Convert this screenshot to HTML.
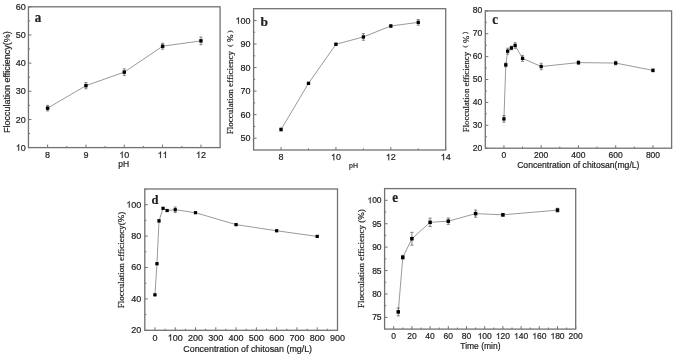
<!DOCTYPE html>
<html><head><meta charset="utf-8"><style>
html,body{margin:0;padding:0;background:#fff;}
svg{display:block;will-change:transform;font-family:"Liberation Sans", sans-serif;fill:#222;}
svg text{fill:#222;stroke:#222;stroke-width:0.2px;}
.one{fill:#222;stroke:#222;stroke-width:0.2px;vector-effect:non-scaling-stroke;}
</style></head><body>
<svg width="676" height="356" viewBox="0 0 676 356">
<rect width="676" height="356" fill="#fff"/>
<rect x="28.45" y="6.8" width="191.65" height="140.8" fill="none" stroke="#727272" stroke-width="1.3"/>
<path d="M47.62 147.6v-3M85.94 147.6v-3M124.28 147.6v-3M162.6 147.6v-3M200.94 147.6v-3M66.78 147.6v-1.6M105.11 147.6v-1.6M143.44 147.6v-1.6M181.77 147.6v-1.6M28.45 147.6h3M28.45 119.44h3M28.45 91.28h3M28.45 63.12h3M28.45 34.96h3M28.45 6.8h3M28.45 133.52h1.6M28.45 105.36h1.6M28.45 77.2h1.6M28.45 49.04h1.6M28.45 20.88h1.6" stroke="#727272" stroke-width="1" fill="none"/>
<text x="47.62" y="158" font-size="9" text-anchor="middle">8</text>
<text x="85.94" y="158" font-size="9" text-anchor="middle">9</text>
<text x="124.28" y="158" font-size="9" text-anchor="middle">&#8199;0</text><path class="one" transform="translate(119.27,158) scale(0.00439,-0.00439)" d="M763 0L583 0L583 1147Q518 1085 415 1024.5Q312 964 223 931L223 1105Q375 1176 486.5 1274Q598 1372 651 1466L763 1466Z"/>
<text x="162.6" y="158" font-size="9" text-anchor="middle">&#8199;&#8199;</text><path class="one" transform="translate(157.6,158) scale(0.00439,-0.00439)" d="M763 0L583 0L583 1147Q518 1085 415 1024.5Q312 964 223 931L223 1105Q375 1176 486.5 1274Q598 1372 651 1466L763 1466Z"/><path class="one" transform="translate(162.6,158) scale(0.00439,-0.00439)" d="M763 0L583 0L583 1147Q518 1085 415 1024.5Q312 964 223 931L223 1105Q375 1176 486.5 1274Q598 1372 651 1466L763 1466Z"/>
<text x="200.94" y="158" font-size="9" text-anchor="middle">&#8199;2</text><path class="one" transform="translate(195.93,158) scale(0.00439,-0.00439)" d="M763 0L583 0L583 1147Q518 1085 415 1024.5Q312 964 223 931L223 1105Q375 1176 486.5 1274Q598 1372 651 1466L763 1466Z"/>
<text x="25.8" y="150.8" font-size="9" text-anchor="end">&#8199;0</text><path class="one" transform="translate(15.79,150.8) scale(0.00439,-0.00439)" d="M763 0L583 0L583 1147Q518 1085 415 1024.5Q312 964 223 931L223 1105Q375 1176 486.5 1274Q598 1372 651 1466L763 1466Z"/>
<text x="25.8" y="122.64" font-size="9" text-anchor="end">20</text>
<text x="25.8" y="94.48" font-size="9" text-anchor="end">30</text>
<text x="25.8" y="66.32" font-size="9" text-anchor="end">40</text>
<text x="25.8" y="38.16" font-size="9" text-anchor="end">50</text>
<text x="25.8" y="10" font-size="9" text-anchor="end">60</text>
<text x="123.6" y="167" font-size="8.5" text-anchor="middle">pH</text>
<text transform="translate(10,133.1) rotate(-90)" font-size="9" style='font-family:"Liberation Sans", sans-serif'>Flocculation efficiency(%)</text>
<text transform="translate(34.71,21.6) scale(1,1.15)" font-size="13" font-weight="bold" style='font-family:"Liberation Serif", serif' fill="#000">a</text>
<polyline points="47.62,108.18 85.94,85.65 124.28,72.13 162.6,46.22 200.94,40.87" fill="none" stroke="#9a9a9a" stroke-width="1"/>
<path d="M47.62 105.36V110.99M46.12 105.36h3.0M46.12 110.99h3.0M85.94 82.55V88.75M84.44 82.55h3.0M84.44 88.75h3.0M124.28 68.89V75.37M122.78 68.89h3.0M122.78 75.37h3.0M162.6 43.27V49.18M161.1 43.27h3.0M161.1 49.18h3.0M200.94 37.07V44.68M199.44 37.07h3.0M199.44 44.68h3.0" stroke="#666" stroke-width="0.8" fill="none"/>
<rect x="45.91" y="106.48" width="3.4" height="3.4" fill="#000"/>
<rect x="84.24" y="83.95" width="3.4" height="3.4" fill="#000"/>
<rect x="122.58" y="70.43" width="3.4" height="3.4" fill="#000"/>
<rect x="160.91" y="44.52" width="3.4" height="3.4" fill="#000"/>
<rect x="199.24" y="39.17" width="3.4" height="3.4" fill="#000"/>
<rect x="253.6" y="8.7" width="192.1" height="141.3" fill="none" stroke="#727272" stroke-width="1.3"/>
<path d="M281.04 150v-3M335.93 150v-3M390.81 150v-3M445.7 150v-3M308.49 150v-1.6M363.37 150v-1.6M418.26 150v-1.6M253.6 138.22h3M253.6 114.67h3M253.6 91.12h3M253.6 67.57h3M253.6 44.02h3M253.6 20.47h3M253.6 126.45h1.6M253.6 102.9h1.6M253.6 79.35h1.6M253.6 55.8h1.6M253.6 32.25h1.6" stroke="#727272" stroke-width="1" fill="none"/>
<text x="281.04" y="160.2" font-size="9" text-anchor="middle">8</text>
<text x="335.93" y="160.2" font-size="9" text-anchor="middle">&#8199;0</text><path class="one" transform="translate(330.92,160.2) scale(0.00439,-0.00439)" d="M763 0L583 0L583 1147Q518 1085 415 1024.5Q312 964 223 931L223 1105Q375 1176 486.5 1274Q598 1372 651 1466L763 1466Z"/>
<text x="390.81" y="160.2" font-size="9" text-anchor="middle">&#8199;2</text><path class="one" transform="translate(385.81,160.2) scale(0.00439,-0.00439)" d="M763 0L583 0L583 1147Q518 1085 415 1024.5Q312 964 223 931L223 1105Q375 1176 486.5 1274Q598 1372 651 1466L763 1466Z"/>
<text x="445.7" y="160.2" font-size="9" text-anchor="middle">&#8199;4</text><path class="one" transform="translate(440.69,160.2) scale(0.00439,-0.00439)" d="M763 0L583 0L583 1147Q518 1085 415 1024.5Q312 964 223 931L223 1105Q375 1176 486.5 1274Q598 1372 651 1466L763 1466Z"/>
<text x="250.5" y="141.42" font-size="9" text-anchor="end">50</text>
<text x="250.5" y="117.88" font-size="9" text-anchor="end">60</text>
<text x="250.5" y="94.33" font-size="9" text-anchor="end">70</text>
<text x="250.5" y="70.77" font-size="9" text-anchor="end">80</text>
<text x="250.5" y="47.22" font-size="9" text-anchor="end">90</text>
<text x="250.5" y="23.67" font-size="9" text-anchor="end">&#8199;00</text><path class="one" transform="translate(235.48,23.67) scale(0.00439,-0.00439)" d="M763 0L583 0L583 1147Q518 1085 415 1024.5Q312 964 223 931L223 1105Q375 1176 486.5 1274Q598 1372 651 1466L763 1466Z"/>
<text x="353.6" y="168.3" font-size="7" text-anchor="middle">pH</text>
<text transform="translate(233.3,134.17) rotate(-90)" font-size="9" style='font-family:"Liberation Serif", serif'>Flocculation efficiency<tspan dx="4.25" dy="-1.63" font-size="6.75">(</tspan><tspan dx="2.7" dy="1.63">%</tspan><tspan dx="1.6" dy="-1.63" font-size="6.75">)</tspan></text>
<text transform="translate(260.57,25.7) scale(1,1)" font-size="13.5" font-weight="bold" style='font-family:"Liberation Serif", serif' fill="#000">b</text>
<polyline points="281.04,129.51 308.49,83.35 335.93,44.26 363.37,36.96 390.81,26.01 418.26,22.36" fill="none" stroke="#9a9a9a" stroke-width="1"/>
<path d="M281.04 128.1V130.92M279.54 128.1h3.0M279.54 130.92h3.0M308.49 82.41V84.3M306.99 82.41h3.0M306.99 84.3h3.0M335.93 43.32V45.2M334.43 43.32h3.0M334.43 45.2h3.0M363.37 33.66V40.26M361.87 33.66h3.0M361.87 40.26h3.0M390.81 24.83V27.19M389.31 24.83h3.0M389.31 27.19h3.0M418.26 19.53V25.18M416.76 19.53h3.0M416.76 25.18h3.0" stroke="#666" stroke-width="0.8" fill="none"/>
<rect x="279.39" y="127.86" width="3.3" height="3.3" fill="#000"/>
<rect x="306.84" y="81.7" width="3.3" height="3.3" fill="#000"/>
<rect x="334.28" y="42.61" width="3.3" height="3.3" fill="#000"/>
<rect x="361.72" y="35.31" width="3.3" height="3.3" fill="#000"/>
<rect x="389.16" y="24.36" width="3.3" height="3.3" fill="#000"/>
<rect x="416.61" y="20.71" width="3.3" height="3.3" fill="#000"/>
<rect x="485.3" y="10.9" width="186.3" height="137.3" fill="none" stroke="#727272" stroke-width="1.3"/>
<path d="M503.93 148.2v-3M541.19 148.2v-3M578.45 148.2v-3M615.71 148.2v-3M652.97 148.2v-3M522.56 148.2v-1.6M559.82 148.2v-1.6M597.08 148.2v-1.6M634.34 148.2v-1.6M671.6 148.2v-1.6M485.3 148.2h3M485.3 125.32h3M485.3 102.43h3M485.3 79.55h3M485.3 56.67h3M485.3 33.78h3M485.3 10.9h3M485.3 136.76h1.6M485.3 113.88h1.6M485.3 90.99h1.6M485.3 68.11h1.6M485.3 45.22h1.6M485.3 22.34h1.6" stroke="#727272" stroke-width="1" fill="none"/>
<text x="503.93" y="158.2" font-size="8.5" text-anchor="middle">0</text>
<text x="541.19" y="158.2" font-size="8.5" text-anchor="middle">200</text>
<text x="578.45" y="158.2" font-size="8.5" text-anchor="middle">400</text>
<text x="615.71" y="158.2" font-size="8.5" text-anchor="middle">600</text>
<text x="652.97" y="158.2" font-size="8.5" text-anchor="middle">800</text>
<text x="482.2" y="150.5" font-size="8.5" text-anchor="end">20</text>
<text x="482.2" y="127.62" font-size="8.5" text-anchor="end">30</text>
<text x="482.2" y="104.73" font-size="8.5" text-anchor="end">40</text>
<text x="482.2" y="81.85" font-size="8.5" text-anchor="end">50</text>
<text x="482.2" y="58.97" font-size="8.5" text-anchor="end">60</text>
<text x="482.2" y="36.08" font-size="8.5" text-anchor="end">70</text>
<text x="482.2" y="13.2" font-size="8.5" text-anchor="end">80</text>
<text x="578.3" y="167.7" font-size="8.6" text-anchor="middle">Concentration of chitosan(mg/L)</text>
<text transform="translate(468.7,132.16) rotate(-90)" font-size="8.7" style='font-family:"Liberation Serif", serif'>Flocculation efficiency<tspan dx="4.6" dy="-1.39" font-size="6.5">(</tspan><tspan dx="2.14" dy="1.39">%</tspan><tspan dx="1.92" dy="-1.39" font-size="6.5">)</tspan></text>
<text transform="translate(492.31,23.7) scale(1,1.12)" font-size="13" font-weight="bold" style='font-family:"Liberation Serif", serif' fill="#000">c</text>
<polyline points="503.93,118.91 505.79,64.9 507.66,51.17 511.38,47.97 515.11,45.45 522.56,58.38 541.19,66.51 578.45,62.62 615.71,63.07 652.97,70.4" fill="none" stroke="#9a9a9a" stroke-width="1"/>
<path d="M503.93 115.59V122.23M502.53 115.59h2.8M502.53 122.23h2.8M505.79 63.07V66.74M504.39 63.07h2.8M504.39 66.74h2.8M507.66 48.2V54.15M506.26 48.2h2.8M506.26 54.15h2.8M511.38 46.14V49.8M509.98 46.14h2.8M509.98 49.8h2.8M515.11 42.59V48.31M513.71 42.59h2.8M513.71 48.31h2.8M522.56 55.41V61.36M521.16 55.41h2.8M521.16 61.36h2.8M541.19 63.3V69.71M539.79 63.3h2.8M539.79 69.71h2.8M578.45 60.79V64.45M577.05 60.79h2.8M577.05 64.45h2.8M615.71 61.24V64.9M614.31 61.24h2.8M614.31 64.9h2.8M652.97 69.02V71.77M651.57 69.02h2.8M651.57 71.77h2.8" stroke="#666" stroke-width="0.8" fill="none"/>
<rect x="502.28" y="117.26" width="3.3" height="3.3" fill="#000"/>
<rect x="504.14" y="63.25" width="3.3" height="3.3" fill="#000"/>
<rect x="506.01" y="49.52" width="3.3" height="3.3" fill="#000"/>
<rect x="509.73" y="46.32" width="3.3" height="3.3" fill="#000"/>
<rect x="513.46" y="43.8" width="3.3" height="3.3" fill="#000"/>
<rect x="520.91" y="56.73" width="3.3" height="3.3" fill="#000"/>
<rect x="539.54" y="64.86" width="3.3" height="3.3" fill="#000"/>
<rect x="576.8" y="60.97" width="3.3" height="3.3" fill="#000"/>
<rect x="614.06" y="61.42" width="3.3" height="3.3" fill="#000"/>
<rect x="651.32" y="68.75" width="3.3" height="3.3" fill="#000"/>
<rect x="144.8" y="189" width="192.7" height="141.3" fill="none" stroke="#727272" stroke-width="1.3"/>
<path d="M154.94 330.3v-3M175.23 330.3v-3M195.51 330.3v-3M215.79 330.3v-3M236.08 330.3v-3M256.36 330.3v-3M276.65 330.3v-3M296.93 330.3v-3M317.22 330.3v-3M337.5 330.3v-3M165.08 330.3v-1.6M185.37 330.3v-1.6M205.65 330.3v-1.6M225.94 330.3v-1.6M246.22 330.3v-1.6M266.51 330.3v-1.6M286.79 330.3v-1.6M307.07 330.3v-1.6M327.36 330.3v-1.6M144.8 330.3h3M144.8 298.9h3M144.8 267.5h3M144.8 236.1h3M144.8 204.7h3M144.8 314.6h1.6M144.8 283.2h1.6M144.8 251.8h1.6M144.8 220.4h1.6M144.8 189h1.6" stroke="#727272" stroke-width="1" fill="none"/>
<text x="154.94" y="340.7" font-size="9" text-anchor="middle">0</text>
<text x="175.23" y="340.7" font-size="9" text-anchor="middle">&#8199;00</text><path class="one" transform="translate(167.72,340.7) scale(0.00439,-0.00439)" d="M763 0L583 0L583 1147Q518 1085 415 1024.5Q312 964 223 931L223 1105Q375 1176 486.5 1274Q598 1372 651 1466L763 1466Z"/>
<text x="195.51" y="340.7" font-size="9" text-anchor="middle">200</text>
<text x="215.79" y="340.7" font-size="9" text-anchor="middle">300</text>
<text x="236.08" y="340.7" font-size="9" text-anchor="middle">400</text>
<text x="256.36" y="340.7" font-size="9" text-anchor="middle">500</text>
<text x="276.65" y="340.7" font-size="9" text-anchor="middle">600</text>
<text x="296.93" y="340.7" font-size="9" text-anchor="middle">700</text>
<text x="317.22" y="340.7" font-size="9" text-anchor="middle">800</text>
<text x="337.5" y="340.7" font-size="9" text-anchor="middle">900</text>
<text x="141.3" y="333.2" font-size="9" text-anchor="end">20</text>
<text x="141.3" y="301.8" font-size="9" text-anchor="end">40</text>
<text x="141.3" y="270.4" font-size="9" text-anchor="end">60</text>
<text x="141.3" y="239" font-size="9" text-anchor="end">80</text>
<text x="141.3" y="207.6" font-size="9" text-anchor="end">&#8199;00</text><path class="one" transform="translate(126.28,207.6) scale(0.00439,-0.00439)" d="M763 0L583 0L583 1147Q518 1085 415 1024.5Q312 964 223 931L223 1105Q375 1176 486.5 1274Q598 1372 651 1466L763 1466Z"/>
<text x="247.7" y="351.6" font-size="8.9" text-anchor="middle">Concentration of chitosan (mg/L)</text>
<text transform="translate(124.1,308.3) rotate(-90)" font-size="9" style='font-family:"Liberation Serif", serif'>Flocculation efficiency(%)</text>
<text transform="translate(151.5,203.8) scale(1,1)" font-size="12.5" font-weight="bold" style='font-family:"Liberation Serif", serif' fill="#000">d</text>
<polyline points="154.94,294.82 156.97,263.73 159,220.87 163.06,208.31 167.11,210.51 175.23,209.72 195.51,212.71 236.08,224.64 276.65,230.76 317.22,236.41" fill="none" stroke="#9a9a9a" stroke-width="1"/>
<path d="M154.94 294.03V295.6M153.44 294.03h3.0M153.44 295.6h3.0M156.97 262.95V264.52M155.47 262.95h3.0M155.47 264.52h3.0M159 219.62V222.13M157.5 219.62h3.0M157.5 222.13h3.0M163.06 207.53V209.1M161.56 207.53h3.0M161.56 209.1h3.0M167.11 209.57V211.45M165.61 209.57h3.0M165.61 211.45h3.0M175.23 207.06V212.39M173.73 207.06h3.0M173.73 212.39h3.0M195.51 211.92V213.49M194.01 211.92h3.0M194.01 213.49h3.0M236.08 223.85V225.42M234.58 223.85h3.0M234.58 225.42h3.0M276.65 229.98V231.55M275.15 229.98h3.0M275.15 231.55h3.0M317.22 235.63V237.2M315.72 235.63h3.0M315.72 237.2h3.0" stroke="#666" stroke-width="0.8" fill="none"/>
<rect x="153.34" y="293.22" width="3.2" height="3.2" fill="#000"/>
<rect x="155.37" y="262.13" width="3.2" height="3.2" fill="#000"/>
<rect x="157.4" y="219.27" width="3.2" height="3.2" fill="#000"/>
<rect x="161.46" y="206.71" width="3.2" height="3.2" fill="#000"/>
<rect x="165.51" y="208.91" width="3.2" height="3.2" fill="#000"/>
<rect x="173.63" y="208.12" width="3.2" height="3.2" fill="#000"/>
<rect x="193.91" y="211.11" width="3.2" height="3.2" fill="#000"/>
<rect x="234.48" y="223.04" width="3.2" height="3.2" fill="#000"/>
<rect x="275.05" y="229.16" width="3.2" height="3.2" fill="#000"/>
<rect x="315.62" y="234.81" width="3.2" height="3.2" fill="#000"/>
<rect x="384.6" y="188.6" width="191.1" height="140.5" fill="none" stroke="#727272" stroke-width="1.3"/>
<path d="M393.7 329.1v-3M411.9 329.1v-3M430.1 329.1v-3M448.3 329.1v-3M466.5 329.1v-3M484.7 329.1v-3M502.9 329.1v-3M521.1 329.1v-3M539.3 329.1v-3M557.5 329.1v-3M575.7 329.1v-3M402.8 329.1v-1.6M421 329.1v-1.6M439.2 329.1v-1.6M457.4 329.1v-1.6M475.6 329.1v-1.6M493.8 329.1v-1.6M512 329.1v-1.6M530.2 329.1v-1.6M548.4 329.1v-1.6M566.6 329.1v-1.6M384.6 317.39h3M384.6 293.98h3M384.6 270.56h3M384.6 247.14h3M384.6 223.72h3M384.6 200.31h3M384.6 305.68h1.6M384.6 282.27h1.6M384.6 258.85h1.6M384.6 235.43h1.6M384.6 212.02h1.6" stroke="#727272" stroke-width="1" fill="none"/>
<text x="393.7" y="339" font-size="8.5" text-anchor="middle">0</text>
<text x="411.9" y="339" font-size="8.5" text-anchor="middle">20</text>
<text x="430.1" y="339" font-size="8.5" text-anchor="middle">40</text>
<text x="448.3" y="339" font-size="8.5" text-anchor="middle">60</text>
<text x="466.5" y="339" font-size="8.5" text-anchor="middle">80</text>
<text x="484.7" y="339" font-size="8.5" text-anchor="middle">&#8199;00</text><path class="one" transform="translate(477.61,339) scale(0.00415,-0.00415)" d="M763 0L583 0L583 1147Q518 1085 415 1024.5Q312 964 223 931L223 1105Q375 1176 486.5 1274Q598 1372 651 1466L763 1466Z"/>
<text x="502.9" y="339" font-size="8.5" text-anchor="middle">&#8199;20</text><path class="one" transform="translate(495.81,339) scale(0.00415,-0.00415)" d="M763 0L583 0L583 1147Q518 1085 415 1024.5Q312 964 223 931L223 1105Q375 1176 486.5 1274Q598 1372 651 1466L763 1466Z"/>
<text x="521.1" y="339" font-size="8.5" text-anchor="middle">&#8199;40</text><path class="one" transform="translate(514.01,339) scale(0.00415,-0.00415)" d="M763 0L583 0L583 1147Q518 1085 415 1024.5Q312 964 223 931L223 1105Q375 1176 486.5 1274Q598 1372 651 1466L763 1466Z"/>
<text x="539.3" y="339" font-size="8.5" text-anchor="middle">&#8199;60</text><path class="one" transform="translate(532.21,339) scale(0.00415,-0.00415)" d="M763 0L583 0L583 1147Q518 1085 415 1024.5Q312 964 223 931L223 1105Q375 1176 486.5 1274Q598 1372 651 1466L763 1466Z"/>
<text x="557.5" y="339" font-size="8.5" text-anchor="middle">&#8199;80</text><path class="one" transform="translate(550.41,339) scale(0.00415,-0.00415)" d="M763 0L583 0L583 1147Q518 1085 415 1024.5Q312 964 223 931L223 1105Q375 1176 486.5 1274Q598 1372 651 1466L763 1466Z"/>
<text x="575.7" y="339" font-size="8.5" text-anchor="middle">200</text>
<text x="381.6" y="320.39" font-size="8.5" text-anchor="end">75</text>
<text x="381.6" y="296.98" font-size="8.5" text-anchor="end">80</text>
<text x="381.6" y="273.56" font-size="8.5" text-anchor="end">85</text>
<text x="381.6" y="250.14" font-size="8.5" text-anchor="end">90</text>
<text x="381.6" y="226.72" font-size="8.5" text-anchor="end">95</text>
<text x="381.6" y="203.31" font-size="8.5" text-anchor="end">&#8199;00</text><path class="one" transform="translate(367.42,203.31) scale(0.00415,-0.00415)" d="M763 0L583 0L583 1147Q518 1085 415 1024.5Q312 964 223 931L223 1105Q375 1176 486.5 1274Q598 1372 651 1466L763 1466Z"/>
<text x="480.4" y="348.8" font-size="8.5" text-anchor="middle">Time (min)</text>
<text transform="translate(364.1,308) rotate(-90)" font-size="9" style='font-family:"Liberation Serif", serif'>Flocculation efficiency (%)</text>
<text transform="translate(392.31,202.2) scale(1,1.12)" font-size="13" font-weight="bold" style='font-family:"Liberation Serif", serif' fill="#000">e</text>
<polyline points="398.25,311.91 402.8,257.3 411.9,238.71 430.1,222.32 448.3,221.2 475.6,213.61 502.9,214.83 557.5,210.14" fill="none" stroke="#9a9a9a" stroke-width="1"/>
<path d="M398.25 307.98V315.85M396.65 307.98h3.2M396.65 315.85h3.2M402.8 255.43V259.18M401.2 255.43h3.2M401.2 259.18h3.2M411.9 232.34V245.08M410.3 232.34h3.2M410.3 245.08h3.2M430.1 218.2V226.44M428.5 218.2h3.2M428.5 226.44h3.2M448.3 218.06V224.33M446.7 218.06h3.2M446.7 224.33h3.2M475.6 210V217.22M474 210h3.2M474 217.22h3.2M502.9 213.42V216.23M501.3 213.42h3.2M501.3 216.23h3.2M557.5 208.27V212.02M555.9 208.27h3.2M555.9 212.02h3.2" stroke="#666" stroke-width="0.8" fill="none"/>
<rect x="396.5" y="310.16" width="3.5" height="3.5" fill="#000"/>
<rect x="401.05" y="255.55" width="3.5" height="3.5" fill="#000"/>
<rect x="410.15" y="236.96" width="3.5" height="3.5" fill="#000"/>
<rect x="428.35" y="220.57" width="3.5" height="3.5" fill="#000"/>
<rect x="446.55" y="219.45" width="3.5" height="3.5" fill="#000"/>
<rect x="473.85" y="211.86" width="3.5" height="3.5" fill="#000"/>
<rect x="501.15" y="213.08" width="3.5" height="3.5" fill="#000"/>
<rect x="555.75" y="208.39" width="3.5" height="3.5" fill="#000"/>
</svg>
</body></html>
